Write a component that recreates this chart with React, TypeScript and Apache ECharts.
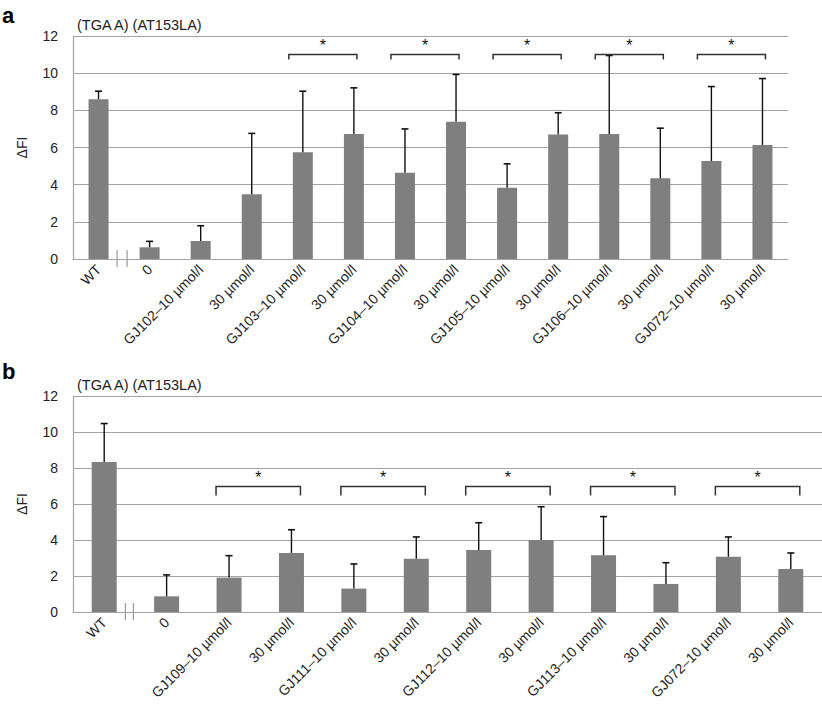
import React, { useEffect, useRef } from "react";
import * as echarts from "echarts";

const catsA = [
  "WT", "0",
  "GJ102–10 µmol/l", "30 µmol/l",
  "GJ103–10 µmol/l", "30 µmol/l",
  "GJ104–10 µmol/l", "30 µmol/l",
  "GJ105–10 µmol/l", "30 µmol/l",
  "GJ106–10 µmol/l", "30 µmol/l",
  "GJ072–10 µmol/l", "30 µmol/l",
];
const valuesA = [8.6, 0.63, 0.97, 3.49, 5.75, 6.72, 4.64, 7.38, 3.83, 6.7, 6.72, 4.34, 5.27, 6.13];
const errA = [0.43, 0.32, 0.82, 3.27, 3.28, 2.49, 2.36, 2.55, 1.29, 1.17, 4.23, 2.7, 4.01, 3.58];
const bracketsA = [[4, 5], [6, 7], [8, 9], [10, 11], [12, 13]];
const bracketYA = 11.0;

const catsB = [
  "WT", "0",
  "GJ109–10 µmol/l", "30 µmol/l",
  "GJ111–10 µmol/l", "30 µmol/l",
  "GJ112–10 µmol/l", "30 µmol/l",
  "GJ113–10 µmol/l", "30 µmol/l",
  "GJ072–10 µmol/l", "30 µmol/l",
];
const valuesB = [8.33, 0.87, 1.91, 3.28, 1.3, 2.96, 3.44, 4.0, 3.15, 1.56, 3.07, 2.39];
const errB = [2.14, 1.19, 1.22, 1.29, 1.37, 1.21, 1.52, 1.85, 2.15, 1.18, 1.1, 0.89];
const bracketsB = [[2, 3], [4, 5], [6, 7], [8, 9], [10, 11]];
const bracketYB = 6.97;

const yTicks = { min: 0, max: 12, interval: 2 };
const panelTitle = "(TGA A) (AT153LA)";
const yName = "ΔFI";

const FONT = "'Liberation Sans', Arial, Helvetica, sans-serif";
const GRID_GRAY = "#a3a3a3";

function errorBarRender(params: any, api: any) {
  const x = api.value(0);
  const v = api.value(1);
  const e = api.value(2);
  const p0 = api.coord([x, v]);
  const p1 = api.coord([x, v + e]);
  return {
    type: "group",
    children: [
      { type: "line", shape: { x1: p0[0], y1: p0[1], x2: p1[0], y2: p1[1] }, style: { stroke: "#111", lineWidth: 1.4 } },
      { type: "line", shape: { x1: p1[0] - 3.5, y1: p1[1], x2: p1[0] + 3.5, y2: p1[1] }, style: { stroke: "#111", lineWidth: 1.6 } },
    ],
  };
}

function makeBracketRender(leftOff: number, rightOff: number, tick: number) {
  return (params: any, api: any) => {
    const i1 = api.value(0);
    const i2 = api.value(1);
    const y = api.value(2);
    const p1 = api.coord([i1, y]);
    const p2 = api.coord([i2, y]);
    const xl = p1[0] + leftOff;
    const xr = p2[0] + rightOff;
    const yy = p1[1];
    return {
      type: "group",
      children: [
        {
          type: "polyline",
          shape: { points: [[xl, yy + tick], [xl, yy], [xr, yy], [xr, yy + tick]] },
          style: { stroke: "#333", lineWidth: 1.5, fill: null },
        },
        {
          type: "text",
          style: {
            text: "*",
            x: (xl + xr) / 2,
            y: yy - 1,
            align: "center",
            verticalAlign: "bottom",
            fontSize: 16,
            fontFamily: FONT,
            fill: "#111",
          },
        },
      ],
    };
  };
}

function makeBreakRender(o1: number, o2: number, up: number, down: number) {
  return (params: any, api: any) => {
    const c = api.coord([0, 0]);
    const half = api.size([1, 0])[0] / 2;
    const bx = c[0] + half;
    const y = c[1];
    return {
      type: "group",
      children: [
        { type: "line", shape: { x1: bx + o1, y1: y - up, x2: bx + o1, y2: y + down }, style: { stroke: "#999", lineWidth: 1.2 } },
        { type: "line", shape: { x1: bx + o2, y1: y - up, x2: bx + o2, y2: y + down }, style: { stroke: "#999", lineWidth: 1.2 } },
      ],
    };
  };
}

function xAxisFor(cats: string[], gridIndex: number) {
  return {
    type: "category",
    gridIndex,
    data: cats,
    axisLine: { show: true, lineStyle: { color: GRID_GRAY, width: 1.2 } },
    axisTick: { show: false },
    axisLabel: { interval: 0, rotate: 45, fontSize: 14, color: "#222", fontFamily: FONT, margin: 8 },
  };
}

function yAxisFor(gridIndex: number) {
  return {
    type: "value",
    gridIndex,
    min: yTicks.min,
    max: yTicks.max,
    interval: yTicks.interval,
    name: yName,
    nameLocation: "middle",
    nameGap: 44,
    nameRotate: 90,
    nameTextStyle: { fontSize: 14, color: "#222", fontFamily: FONT },
    axisLine: { show: true, lineStyle: { color: GRID_GRAY, width: 1.2 } },
    axisTick: { show: false },
    axisLabel: { fontSize: 14, color: "#222", fontFamily: FONT, margin: 15 },
    splitLine: { show: true, lineStyle: { color: GRID_GRAY, width: 1.2 } },
  };
}

export default function App() {
  const ref = useRef<HTMLDivElement>(null);
  useEffect(() => {
    document.body.style.margin = "0";
    if (!ref.current) return;
    const chart = echarts.init(ref.current, undefined, { renderer: "svg" });
    const errDataA = valuesA.map((v, i) => [i, v, errA[i]]);
    const errDataB = valuesB.map((v, i) => [i, v, errB[i]]);
    const brDataA = bracketsA.map((b) => [b[0], b[1], bracketYA]);
    const brDataB = bracketsB.map((b) => [b[0], b[1], bracketYB]);
    chart.setOption({
      animation: false,
      backgroundColor: "#fff",
      title: [
        { text: panelTitle, left: 77, top: 17, padding: 0, textStyle: { fontSize: 14.5, fontWeight: "normal", color: "#222", fontFamily: FONT } },
        { text: panelTitle, left: 77, top: 377, padding: 0, textStyle: { fontSize: 14.5, fontWeight: "normal", color: "#222", fontFamily: FONT } },
      ],
      graphic: [
        { type: "text", left: 2, top: 4, style: { text: "a", fontSize: 22, fontWeight: "bold", fontFamily: FONT, fill: "#000" } },
        { type: "text", left: 2, top: 360, style: { text: "b", fontSize: 22, fontWeight: "bold", fontFamily: FONT, fill: "#000" } },
      ],
      grid: [
        { left: 73, top: 36, width: 715, height: 223 },
        { left: 73, top: 396, width: 749, height: 216 },
      ],
      xAxis: [xAxisFor(catsA, 0), xAxisFor(catsB, 1)],
      yAxis: [yAxisFor(0), yAxisFor(1)],
      series: [
        { type: "bar", xAxisIndex: 0, yAxisIndex: 0, data: valuesA, barWidth: 20, itemStyle: { color: "#7f7f7f" } },
        { type: "custom", xAxisIndex: 0, yAxisIndex: 0, data: errDataA, encode: { x: 0, y: 1 }, renderItem: errorBarRender, z: 5 },
        { type: "custom", xAxisIndex: 0, yAxisIndex: 0, data: brDataA, encode: { x: [0, 1], y: 2 }, renderItem: makeBracketRender(-14, 3, 5), z: 6 },
        { type: "custom", xAxisIndex: 0, yAxisIndex: 0, data: [[0, 0]], encode: { x: 0, y: 1 }, renderItem: makeBreakRender(-7, 3, 9, 8), z: 6 },
        { type: "bar", xAxisIndex: 1, yAxisIndex: 1, data: valuesB, barWidth: 25, itemStyle: { color: "#7f7f7f" } },
        { type: "custom", xAxisIndex: 1, yAxisIndex: 1, data: errDataB, encode: { x: 0, y: 1 }, renderItem: errorBarRender, z: 5 },
        { type: "custom", xAxisIndex: 1, yAxisIndex: 1, data: brDataB, encode: { x: [0, 1], y: 2 }, renderItem: makeBracketRender(-13, 9, 9), z: 6 },
        { type: "custom", xAxisIndex: 1, yAxisIndex: 1, data: [[0, 0]], encode: { x: 0, y: 1 }, renderItem: makeBreakRender(-10, -2, 9, 8), z: 6 },
      ],
    });
    return () => chart.dispose();
  }, []);
  return <div ref={ref} style={{ width: 822, height: 717 }} />;
}
